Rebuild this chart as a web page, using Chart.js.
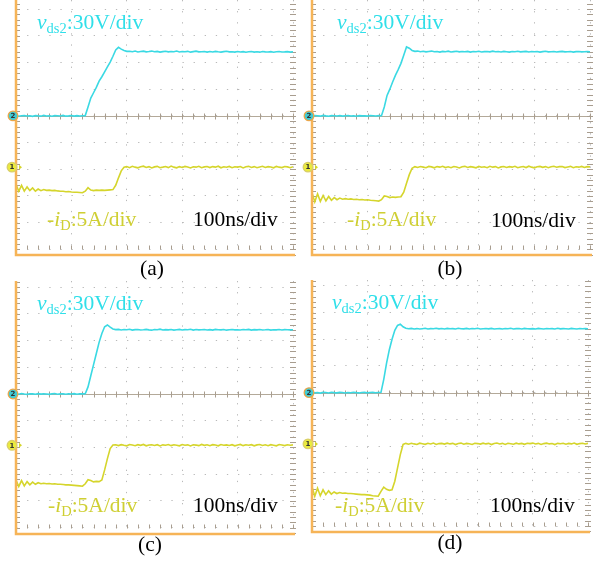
<!DOCTYPE html>
<html>
<head>
<meta charset="utf-8">
<script src="https://cdn.jsdelivr.net/npm/chart.js@4.4.1/dist/chart.umd.min.js"></script>
<style>
  html, body { margin: 0; padding: 0; background: #fff; }
  body { width: 598px; height: 563px; position: relative; overflow: hidden;
         font-family: "Liberation Serif", "Times New Roman", serif; }
  .panel { position: absolute; }
  .lbl { position: absolute; font-size: 21.5px; line-height: 21.5px; white-space: nowrap; }
  .lbl sub { font-size: 14.5px; vertical-align: baseline; position: relative; top: 4px; }
  .lbl i { font-style: italic; }
  .vds { color: #2fdfe9; }
  .idl { color: #cfcf33; }
  .tb  { color: #000; }
  .cap { position: absolute; font-size: 21.5px; line-height: 21.5px; width: 60px;
         text-align: center; color: #000; }
</style>
</head>
<body>
<canvas id="scopeA" class="panel" width="298" height="280" style="left:0;top:0"></canvas>
<canvas id="scopeB" class="panel" width="300" height="280" style="left:298px;top:0"></canvas>
<canvas id="scopeC" class="panel" width="298" height="283" style="left:0;top:280px"></canvas>
<canvas id="scopeD" class="panel" width="300" height="283" style="left:298px;top:280px"></canvas>
<div id="labels"></div>

<script>
// Sample times (ns), 100 ns/div, 5 divisions shown
const timeNs = [
  0,5,10,15,20,25,30,35,40,45,
  50,55,60,65,70,75,80,85,90,95,
  100,105,110,115,120,125,130,135,140,145,
  150,155,160,165,170,175,180,185,190,195,
  200,205,210,215,220,225,230,235,240,245,
  250,255,260,265,270,275,280,285,290,295,
  300,305,310,315,320,325,330,335,340,345,
  350,355,360,365,370,375,380,385,390,395,
  400,405,410,415,420,425,430,435,440,445,
  450,455,460,465,470,475,480,485,490,495,
  500
];

// Channel settings
const VDS_SCALE = 30;     // V/div, channel 2
const ID_SCALE = 5;       // A/div, channel 1
const CH1_OFFSET = -1.92; // div, channel 1 reference level

// (a) drain-source voltage vds2 (V) and -iD (A)
const vdsA = [
  0.3,-0.4,0.2,0.5,-0.2,0.1,-0.5,0.4,0.0,-0.3,
  0.6,-0.1,0.2,-0.4,0.3,0.1,-0.2,0.5,-0.3,0.0,
  0.4,-0.2,0.3,-0.1,0.2,0.3,10,20,26,32,
  39,44,49.5,55,60.5,67,74,77,75,73.5,
  72.5,72.6,72.1,72.9,71.8,72.4,72.7,71.9,72.3,72.8,
  72.0,72.5,71.7,72.2,72.6,71.9,72.4,72.1,72.8,71.8,
  72.3,72.0,72.5,71.6,72.2,72.7,71.9,72.1,72.4,71.7,
  72.3,71.8,72.5,72.0,71.6,72.2,72.6,71.9,72.1,71.7,
  72.4,71.8,72.2,71.5,72.0,72.3,71.7,72.1,71.6,72.4,
  71.9,71.8,72.2,71.5,72.0,72.3,71.7,71.9,72.2,71.6,
  72.0
];
const idA = [
  -3.2,-4.5,-3.4,-4.5,-3.7,-4.4,-3.9,-4.5,-4.1,-4.4,
  -4.2,-4.35,-4.3,-4.4,-4.35,-4.45,-4.5,-4.5,-4.6,-4.55,
  -4.65,-4.7,-4.7,-4.75,-4.8,-4.5,-3.85,-4.3,-4.4,-4.3,
  -4.35,-4.3,-4.35,-4.3,-4.25,-4.2,-3.4,-2.0,-0.7,0.0,
  0.1,-0.1,0.15,0.0,-0.12,0.08,0.18,-0.05,0.1,-0.15,
  0.05,0.15,-0.1,0.0,0.12,-0.08,0.2,0.0,-0.12,0.1,
  -0.05,0.14,0.02,-0.15,0.08,0.0,0.16,-0.1,0.05,0.12,
  -0.08,0.1,0.0,0.18,-0.12,0.06,-0.02,0.14,-0.1,0.08,
  0.0,0.12,-0.14,0.06,0.15,-0.05,0.1,-0.1,0.04,0.16,
  -0.06,0.1,0.02,-0.12,0.14,0.0,-0.08,0.12,0.05,-0.1,
  0.08
];

// (b)
const vdsB = [
  -0.2,0.4,0.1,-0.3,0.5,0.0,-0.4,0.3,0.2,-0.1,
  0.4,-0.3,0.1,0.5,-0.2,0.2,-0.4,0.3,0.0,0.2,
  -0.3,0.4,0.1,-0.2,0.3,0.2,10,23,30,38,
  45.5,52,59,68,77.5,76,73.5,72.5,72.8,72.1,
  72.6,71.9,72.4,72.8,72.0,72.3,71.7,72.5,72.1,72.7,
  71.8,72.2,72.6,71.9,72.4,72.0,72.5,71.7,72.3,72.1,
  72.6,71.8,72.2,72.4,71.9,72.7,72.0,72.3,71.8,72.5,
  72.1,71.7,72.4,72.0,72.6,71.9,72.2,72.5,71.8,72.3,
  72.0,72.4,71.7,72.2,72.6,71.9,72.1,72.4,71.8,72.2,
  72.5,71.9,72.1,72.3,71.7,72.2,72.4,71.9,72.0,72.3,
  72.1
];
const idB = [
  -4.8,-6.5,-5.0,-6.4,-5.3,-6.3,-5.5,-6.2,-5.7,-6.1,
  -5.8,-6.0,-5.9,-6.0,-5.95,-6.05,-6.0,-6.1,-6.05,-6.15,
  -6.1,-6.2,-6.25,-6.3,-6.35,-6.1,-5.4,-5.5,-5.7,-5.6,
  -5.65,-5.6,-5.55,-4.7,-3.0,-1.4,-0.2,0.1,-0.05,0.12,
  0.0,-0.1,0.14,0.05,-0.12,0.1,0.0,0.16,-0.08,0.06,
  -0.1,0.12,0.02,-0.14,0.08,0.15,-0.05,0.1,0.0,-0.12,
  0.14,-0.02,0.08,-0.1,0.16,0.0,0.1,-0.14,0.05,0.12,
  -0.06,0.1,0.0,0.15,-0.1,0.04,0.12,-0.08,0.18,0.0,
  -0.12,0.08,0.14,-0.04,0.1,-0.1,0.06,0.16,-0.02,0.1,
  0.12,-0.08,0.04,0.15,-0.1,0.08,0.0,0.14,-0.06,0.1,
  0.05
];

// (c)
const vdsC = [
  0.2,-0.3,0.5,0.0,-0.4,0.3,0.1,-0.2,0.4,-0.1,
  0.3,0.0,-0.4,0.2,0.5,-0.2,0.1,0.3,-0.3,0.2,
  0.0,0.4,-0.2,0.3,0.1,0.3,8,20.5,33,45.5,
  58,68,75.5,77.5,75,73,72.3,72.6,71.9,72.4,
  72.1,72.7,71.8,72.3,72.5,71.9,72.2,72.6,72.0,71.7,
  72.4,72.1,72.8,71.9,72.3,72.0,72.5,71.8,72.2,72.6,
  71.9,72.3,72.1,72.7,71.8,72.4,72.0,72.2,72.5,71.9,
  72.3,71.8,72.6,72.1,72.0,72.4,71.7,72.2,72.5,72.0,
  72.2,71.9,72.4,72.1,72.6,71.8,72.3,72.0,72.4,71.9,
  72.1,72.5,71.8,72.2,72.0,72.4,71.9,72.3,72.1,72.0,
  72.2
];
const idC = [
  -6.5,-7.7,-6.6,-7.6,-6.8,-7.4,-6.9,-7.3,-7.0,-7.2,
  -7.1,-7.2,-7.15,-7.25,-7.2,-7.3,-7.3,-7.35,-7.4,-7.4,
  -7.45,-7.5,-7.55,-7.6,-7.65,-7.2,-6.45,-6.6,-6.85,-6.75,
  -6.8,-6.5,-4.6,-2.5,-0.6,0.05,0.1,-0.05,0.12,0.0,
  -0.1,0.14,0.04,-0.08,0.12,0.0,0.16,-0.1,0.06,0.1,
  -0.04,0.12,-0.12,0.08,0.0,0.15,-0.06,0.1,0.02,-0.1,
  0.14,0.0,0.08,-0.12,0.1,0.04,-0.06,0.16,0.0,0.1,
  -0.08,0.12,0.05,-0.1,0.14,0.0,0.08,-0.04,0.12,-0.1,
  0.06,0.16,-0.06,0.1,0.0,0.12,-0.1,0.08,0.14,-0.02,
  0.1,-0.08,0.12,0.02,-0.1,0.14,0.04,-0.06,0.1,0.0,
  0.08
];

// (d)
const vdsD = [
  0.4,-0.2,0.1,-0.5,0.3,0.2,-0.3,0.5,0.0,-0.2,
  0.3,0.1,-0.4,0.2,-0.1,0.4,0.0,-0.3,0.2,0.5,
  -0.2,0.1,0.3,-0.1,0.2,0.4,15,33,48,60,
  70,75.5,77,74,72.3,71.8,72.2,71.6,72.0,71.5,
  71.9,72.3,71.6,72.0,71.8,72.4,71.7,72.1,71.5,72.2,
  71.8,72.0,71.6,72.3,71.9,71.7,72.2,71.5,72.0,71.8,
  72.3,71.6,71.9,72.1,71.7,72.2,71.5,71.9,72.0,71.6,
  72.1,71.8,72.3,71.6,71.9,72.0,71.5,72.2,71.8,71.7,
  72.0,71.6,72.2,71.9,71.5,72.1,71.8,72.0,71.6,72.3,
  71.7,72.0,71.8,71.5,72.2,71.9,71.6,72.1,71.8,71.9,
  71.8
];
const idD = [
  -8.0,-9.8,-8.3,-9.7,-8.6,-9.5,-8.8,-9.4,-9.0,-9.3,
  -9.1,-9.25,-9.2,-9.3,-9.3,-9.35,-9.4,-9.45,-9.5,-9.5,
  -9.55,-9.6,-9.7,-9.75,-9.8,-8.9,-8.1,-8.5,-8.7,-8.6,
  -7.0,-4.5,-2.0,-0.1,0.1,-0.05,0.12,0.0,-0.1,0.14,
  0.04,-0.08,0.12,0.0,0.16,-0.1,0.06,0.1,-0.04,0.14,
  0.0,0.1,-0.12,0.08,0.15,-0.06,0.1,0.02,-0.1,0.12,
  0.06,-0.04,0.14,0.0,0.1,-0.12,0.08,0.16,-0.02,0.1,
  -0.1,0.12,0.04,-0.06,0.14,0.0,0.1,-0.08,0.12,0.05,
  0.15,-0.02,0.1,-0.1,0.06,0.14,0.0,0.08,-0.12,0.1,
  0.04,0.12,-0.06,0.1,0.0,0.16,-0.08,0.06,0.12,-0.02,
  0.1
];

// Text drawn on each screen
const vdsText = ["v", "ds2", ":30V/div"];
const idText = ["-", "i", "D", ":5A/div"];
const timebaseText = "100ns/div";
const captions = ["(a)", "(b)", "(c)", "(d)"];

// ---- styling ----
const CYAN = '#3ad9e3';
const YELLOW = '#d5d52c';
const GRID = '#b9b9b9';
const AXIS = '#b3a999';
const TICK = '#a89d8f';
const ORANGE = '#f6b457';

// Graticule: reference axis, minor ticks, orange frame and channel markers
const graticule = {
  id: 'graticule',
  beforeDatasetsDraw(chart) {
    const { ctx, chartArea: a, scales: { x, y } } = chart;
    ctx.save();
    const y0 = Math.round(y.getPixelForValue(0)) + 0.5;
    ctx.strokeStyle = AXIS;
    ctx.lineWidth = 1;
    ctx.beginPath();
    ctx.moveTo(a.left, y0);
    ctx.lineTo(a.right, y0);
    ctx.stroke();

    ctx.strokeStyle = TICK;
    ctx.beginPath();
    const yb = Math.round(y.getPixelForValue(-5)) + 0.5;
    for (let t = 0; t <= 500; t += 20) {
      const px = Math.round(x.getPixelForValue(t)) + 0.5;
      ctx.moveTo(px, y0 - 3); ctx.lineTo(px, y0 + 3);
      ctx.moveTo(px, yb - 4); ctx.lineTo(px, yb);
    }
    for (let k = -26; k <= Math.floor(y.max * 5); k++) {
      const py = Math.round(y.getPixelForValue(k / 5)) + 0.5;
      ctx.moveTo(a.left, py); ctx.lineTo(a.left + 4, py);
      ctx.moveTo(a.right - 3, py); ctx.lineTo(a.right + 3, py);
    }
    ctx.stroke();
    ctx.restore();
  },
  afterDatasetsDraw(chart) {
    const { ctx, chartArea: a, scales: { y } } = chart;
    ctx.save();
    ctx.strokeStyle = ORANGE;
    ctx.lineWidth = 2.5;
    ctx.beginPath();
    ctx.moveTo(a.left, a.top);
    ctx.lineTo(a.left, a.bottom);
    ctx.lineTo(a.right + 2, a.bottom);
    ctx.stroke();

    const drawMarker = (cx, cy, fill, ring, txt) => {
      ctx.beginPath();
      ctx.arc(cx, cy, 4.8, 0, Math.PI * 2);
      ctx.fillStyle = fill;
      ctx.fill();
      ctx.lineWidth = 1.3;
      ctx.strokeStyle = ring;
      ctx.stroke();
      ctx.fillStyle = '#333';
      ctx.font = 'bold 7px "DejaVu Sans", sans-serif';
      ctx.textAlign = 'center';
      ctx.textBaseline = 'middle';
      ctx.fillText(txt, cx, cy + 0.5);
    };
    const y2 = y.getPixelForValue(0);
    drawMarker(a.left - 3, y2, '#3fcbd4', '#eaa64a', '2');
    const y1 = y.getPixelForValue(CH1_OFFSET);
    ctx.fillStyle = YELLOW;
    ctx.beginPath();
    ctx.moveTo(a.left + 3, y1 - 2.5);
    ctx.lineTo(a.left + 6, y1);
    ctx.lineTo(a.left + 3, y1 + 2.5);
    ctx.closePath();
    ctx.fill();
    drawMarker(a.left - 4, y1, '#ebeb3c', '#d9cf6a', '1');
    ctx.restore();
  }
};

function scope(id, vds, iNeg, pad, ymin, ymax) {
  const axisOpts = (min, max, step) => ({
    type: 'linear', min, max,
    ticks: { display: false, stepSize: step, includeBounds: false },
    grid: { color: GRID, lineWidth: 1, drawTicks: false },
    border: { display: false, dash: [1.3, 9.8] }
  });
  return new Chart(document.getElementById(id), {
    type: 'line',
    data: {
      datasets: [
        {
          label: 'vds2',
          data: timeNs.map((t, i) => ({ x: t, y: vds[i] / VDS_SCALE })),
          borderColor: CYAN, borderWidth: 1.6, pointRadius: 0, tension: 0
        },
        {
          label: '-iD',
          data: timeNs.map((t, i) => ({ x: t, y: CH1_OFFSET + iNeg[i] / ID_SCALE })),
          borderColor: YELLOW, borderWidth: 1.6, pointRadius: 0, tension: 0
        }
      ]
    },
    options: {
      responsive: false,
      animation: false,
      devicePixelRatio: 1,
      events: [],
      layout: { padding: pad },
      plugins: { legend: { display: false }, tooltip: { enabled: false } },
      scales: { x: axisOpts(0, 500, 100), y: axisOpts(ymin, ymax, 1) }
    },
    plugins: [graticule]
  });
}

scope('scopeA', vdsA, idA, { left: 16, right: 5, top: 0, bottom: 25 }, -5.21, 4.34);
scope('scopeB', vdsB, idB, { left: 14, right: 8, top: 0, bottom: 25 }, -5.21, 4.34);
scope('scopeC', vdsC, idC, { left: 16, right: 5, top: 1, bottom: 29 }, -5.24, 4.23);
scope('scopeD', vdsD, idD, { left: 14, right: 10, top: 0, bottom: 31 }, -5.22, 4.22);

// Text annotations (baseline positions in page pixels)
const ASC = 18;
const textSpots = [
  { vds: [37, 30],   id: [47, 227],  tb: [193, 227], cap: [152, 276] },
  { vds: [337, 30],  id: [347, 227], tb: [491, 228], cap: [450, 276] },
  { vds: [37, 311],  id: [48, 513],  tb: [193, 513], cap: [150, 552] },
  { vds: [332, 310], id: [335, 513], tb: [490, 513], cap: [450, 550] }
];
const host = document.getElementById('labels');
textSpots.forEach((s, k) => {
  const v = document.createElement('div');
  v.className = 'lbl vds';
  v.style.left = s.vds[0] + 'px'; v.style.top = (s.vds[1] - ASC) + 'px';
  v.innerHTML = '<i>' + vdsText[0] + '</i><sub>' + vdsText[1] + '</sub>' + vdsText[2];
  host.appendChild(v);

  const c = document.createElement('div');
  c.className = 'lbl idl';
  c.style.left = s.id[0] + 'px'; c.style.top = (s.id[1] - ASC) + 'px';
  c.innerHTML = idText[0] + '<i>' + idText[1] + '</i><sub>' + idText[2] + '</sub>' + idText[3];
  host.appendChild(c);

  const t = document.createElement('div');
  t.className = 'lbl tb';
  t.style.left = s.tb[0] + 'px'; t.style.top = (s.tb[1] - ASC) + 'px';
  t.textContent = timebaseText;
  host.appendChild(t);

  const p = document.createElement('div');
  p.className = 'cap';
  p.style.left = (s.cap[0] - 30) + 'px'; p.style.top = (s.cap[1] - ASC) + 'px';
  p.textContent = captions[k];
  host.appendChild(p);
});
</script>
</body>
</html>
